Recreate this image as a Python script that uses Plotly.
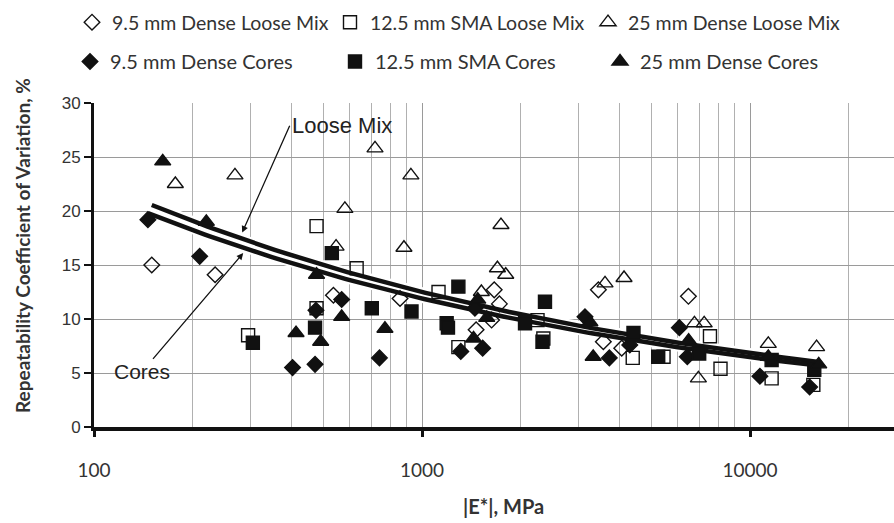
import numpy as np
import plotly.graph_objects as go

# ---- data (|E*| MPa, repeatability CoV %) ----
lm95_x = [150, 234, 537, 857, 1462, 1630, 1660, 1722, 3450, 3572, 4064, 6490]
lm95_y = [15.0, 14.1, 12.2, 11.9, 9.0, 9.9, 12.7, 11.4, 12.7, 7.9, 7.3, 12.1]

lm125_x = [295, 477, 477, 632, 1123, 1291, 2250, 2344, 4390, 5450, 7550, 8130, 11640, 15600]
lm125_y = [8.5, 18.6, 11.0, 14.7, 12.5, 7.4, 9.9, 8.2, 6.4, 6.5, 8.4, 5.4, 4.5, 3.9]

lm25_x = [177, 269, 547, 582, 719, 881, 925, 1517, 1698, 1741, 1800, 3614, 4130, 6770, 7250, 6960, 11370, 15960]
lm25_y = [22.5, 23.3, 16.7, 20.2, 25.8, 16.6, 23.3, 12.5, 14.7, 18.7, 14.1, 13.3, 13.8, 9.6, 9.6, 4.5, 7.7, 7.4]

c95_x = [146, 210, 403, 472, 475, 569, 742, 1313, 1450, 1531, 3140, 3726, 4300, 6090, 6440, 10720, 15200]
c95_y = [19.2, 15.8, 5.5, 5.8, 10.8, 11.8, 6.4, 7.0, 11.0, 7.3, 10.2, 6.4, 7.6, 9.2, 6.5, 4.7, 3.7]

c125_x = [305, 472, 531, 703, 929, 1189, 1200, 1291, 2061, 2371, 2330, 4413, 5250, 7000, 11640, 15700]
c125_y = [7.8, 9.2, 16.1, 11.0, 10.7, 9.6, 9.2, 13.0, 9.6, 11.6, 7.9, 8.7, 6.5, 6.8, 6.2, 5.3]

c25_x = [162, 220, 413, 477, 491, 569, 771, 1436, 1479, 1575, 3250, 3326, 6500, 11370, 16200]
c25_y = [24.6, 19.0, 8.7, 14.1, 7.9, 10.2, 9.1, 8.2, 11.8, 10.1, 9.7, 6.5, 8.0, 6.5, 5.8]

names = ["9.5 mm Dense Loose Mix", "12.5 mm SMA Loose Mix", "25 mm Dense Loose Mix",
         "9.5 mm Dense Cores", "12.5 mm SMA Cores", "25 mm Dense Cores"]
x_ticks = [100, 1000, 10000]
y_ticks = [0, 5, 10, 15, 20, 25, 30]

# power trendlines y = a * x^b
loose_a, loose_b = 76.4, -0.262
cores_a, cores_b = 74.2, -0.265

fig = go.Figure()

loose_x = lm95_x + lm125_x + lm25_x
core_x = c95_x + c125_x + c25_x
trends = []
for xs, a, b in [(loose_x, loose_a, loose_b), (core_x, cores_a, cores_b)]:
    xx = np.logspace(np.log10(min(xs)), np.log10(max(xs)), 120)
    trends.append((xx, a * xx ** b))

for tx, ty in trends:
    fig.add_trace(go.Scatter(x=tx, y=ty, mode="lines", line=dict(color="white", width=9),
                             showlegend=False, hoverinfo="skip"))
for tx, ty in trends:
    fig.add_trace(go.Scatter(x=tx, y=ty, mode="lines", line=dict(color="#111", width=4.5),
                             showlegend=False, hoverinfo="skip"))

series = [
    (lm95_x, lm95_y, "diamond-open", 12, "legend"),
    (lm125_x, lm125_y, "square-open", 13, "legend"),
    (lm25_x, lm25_y, "triangle-up-open", 14, "legend"),
    (c95_x, c95_y, "diamond", 12, "legend2"),
    (c125_x, c125_y, "square", 13, "legend2"),
    (c25_x, c25_y, "triangle-up", 14, "legend2"),
]
for (xs, ys, sym, sz, lg), nm in zip(series, names):
    fig.add_trace(go.Scatter(x=xs, y=ys, mode="markers", name=nm, legend=lg,
                             marker=dict(symbol=sym, size=sz, color="#111",
                                         line=dict(color="#111", width=1.4))))

minor_vals = [m * d for d in (100, 1000, 10000) for m in range(2, 10)]
W, H = 894, 523
PL, PT, PW, PH = 94, 103, 800, 324
leg_common = dict(orientation="h", xanchor="left", yanchor="top",
                  xref="paper", yref="paper", entrywidthmode="pixels", itemwidth=30,
                  bgcolor="rgba(0,0,0,0)")

fig.update_layout(
    width=W, height=H,
    margin=dict(l=PL, r=W - PL - PW, t=PT, b=H - PT - PH, autoexpand=False),
    paper_bgcolor="white", plot_bgcolor="white",
    font=dict(family="Lato, Liberation Sans, sans-serif", color="#222", size=16),
    legend=dict(**leg_common, entrywidth=213, x=(72 - PL) / PW, y=(PT + PH - 3) / PH,
                font=dict(size=19.5, family="Lato, sans-serif", color="#333")),
    legend2=dict(**leg_common, entrywidth=220, x=(70 - PL) / PW, y=(PT + PH - 42) / PH,
                 font=dict(size=20, family="Lato, sans-serif", color="#333")),
    xaxis=dict(type="log", range=[2, 2 + PW / 328],
               tickvals=x_ticks, ticktext=[str(v) for v in x_ticks],
               showgrid=True, gridcolor="#9a9a9a", gridwidth=1,
               showline=True, linecolor="#111", linewidth=4,
               ticks="outside", ticklen=6, tickwidth=3, tickcolor="#111",
               ticklabelstandoff=17,
               tickfont=dict(family="Lato, sans-serif", size=19, color="#333"),
               minor=dict(tickvals=minor_vals, showgrid=True, gridcolor="#b0b0b0",
                          gridwidth=1, ticks=""),
               zeroline=False),
    yaxis=dict(range=[0, 30], tickvals=y_ticks,
               showgrid=True, gridcolor="#9a9a9a", gridwidth=1,
               showline=True, linecolor="#111", linewidth=3,
               ticks="outside", ticklen=7, tickwidth=2, tickcolor="#111",
               tickfont=dict(family="Liberation Sans, Arial, sans-serif", size=17, color="#333"),
               zeroline=False),
)

fig.add_annotation(text="<b>Repeatability Coefficient of Variation, %</b>",
                   xref="paper", yref="paper", x=0, y=(427 - 246) / PH, xshift=-72,
                   xanchor="center", yanchor="middle",
                   textangle=-90, showarrow=False,
                   font=dict(family="Lato, sans-serif", size=19, color="#333"))
fig.add_annotation(text="<b>|E*|, MPa</b>", xref="paper", yref="paper",
                   x=(503 - PL) / PW, y=0, yshift=-79, xanchor="center", yanchor="middle",
                   showarrow=False,
                   font=dict(family="Lato, sans-serif", size=20, color="#333"))

fig.add_annotation(text="Loose Mix", xref="x", yref="y",
                   x=np.log10(283), y=18.0, ax=np.log10(395), ay=27.9,
                   axref="x", ayref="y", showarrow=True, arrowhead=2, arrowsize=1,
                   arrowwidth=1.3, arrowcolor="#111", standoff=0,
                   font=dict(family="Liberation Sans, Arial", size=22, color="#222"),
                   xanchor="left", yanchor="middle")
fig.add_annotation(text="Cores", xref="x", yref="y",
                   x=np.log10(285), y=16.1, ax=np.log10(140), ay=5.1,
                   axref="x", ayref="y", showarrow=True, arrowhead=2, arrowsize=1,
                   arrowwidth=1.3, arrowcolor="#111", standoff=0,
                   font=dict(family="Liberation Sans, Arial", size=21, color="#222"))

fig.write_html("out.html")
